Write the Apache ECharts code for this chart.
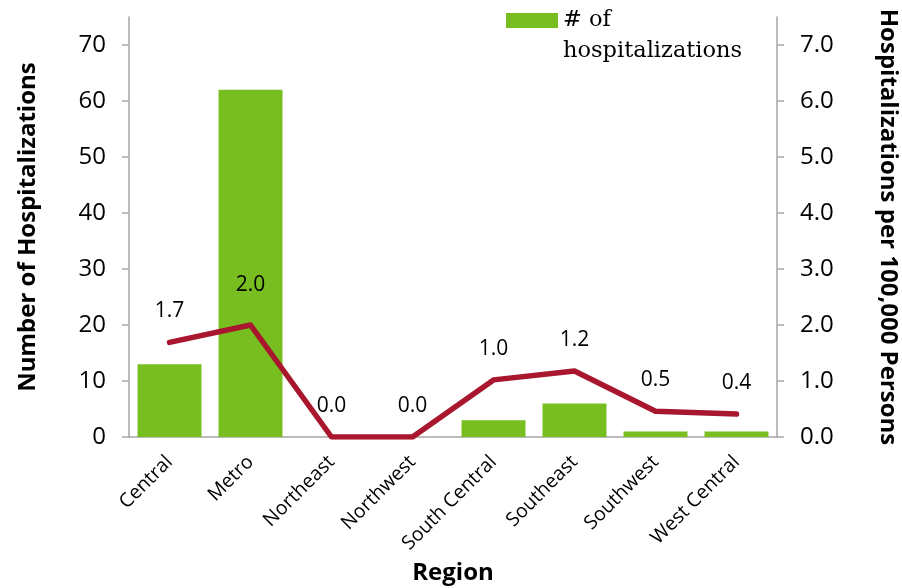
<!DOCTYPE html>
<html>
<head>
<meta charset="utf-8">
<script src="https://cdn.jsdelivr.net/npm/echarts@6/dist/echarts.min.js"></script>
<style>html,body{margin:0;padding:0;background:#fff}#c{width:902px;height:588px}</style>
</head>
<body>
<div id="c"></div>
<script>
const regions = ['Central','Metro','Northeast','Northwest','South Central','Southeast','Southwest','West Central'];
const hospitalizations = [13, 62, 0, 0, 3, 6, 1, 1];
const ratePer100k = [1.69, 2.0, 0.0, 0.0, 1.02, 1.18, 0.46, 0.41];
const leftTicks = [0, 10, 20, 30, 40, 50, 60, 70];
const rightTicks = [0, 1, 2, 3, 4, 5, 6, 7];

const chart = echarts.init(document.getElementById('c'), null, {renderer: 'canvas'});
const sans = 'Open Sans';
const axisColor = '#a6a6a6';
chart.setOption({
  animation: false,
  grid: {left: 129, right: 125, top: 17, bottom: 151, outerBoundsMode: 'none'},
  legend: {
    data: ['# of\nhospitalizations'],
    left: 506, top: -26, padding: 0,
    itemWidth: 52, itemHeight: 15, itemGap: 5,
    icon: 'rect',
    formatter: name => '\n' + name,
    textStyle: {fontFamily: 'DejaVu Serif', fontSize: 22.5, color: '#000', lineHeight: 31}
  },
  xAxis: {
    type: 'category',
    data: regions,
    axisLine: {lineStyle: {color: axisColor, width: 1.5}},
    axisTick: {show: false},
    axisLabel: {rotate: 45, fontFamily: sans, fontSize: 19.5, color: '#000', margin: 22},
    name: 'Region', nameLocation: 'middle', nameGap: 123,
    nameTextStyle: {fontFamily: sans, fontWeight: 'bold', fontSize: 24, color: '#000'}
  },
  yAxis: [{
    type: 'value', min: 0, max: 75, interval: 10,
    axisLine: {show: true, lineStyle: {color: axisColor, width: 1.5}},
    axisTick: {show: true, length: 7, lineStyle: {color: axisColor, width: 1.5}, customValues: leftTicks},
    axisLabel: {fontFamily: sans, fontSize: 24, color: '#000', margin: 23, customValues: leftTicks},
    splitLine: {show: false},
    name: 'Number of Hospitalizations', nameLocation: 'middle', nameGap: 89, nameRotate: 90,
    nameTextStyle: {fontFamily: sans, fontWeight: 'bold', fontSize: 24, color: '#000'}
  }, {
    type: 'value', min: 0, max: 7.5, interval: 1,
    position: 'right',
    axisLine: {show: true, lineStyle: {color: axisColor, width: 1.5}},
    axisTick: {show: true, length: 7, lineStyle: {color: axisColor, width: 1.5}, customValues: rightTicks},
    axisLabel: {fontFamily: sans, fontSize: 24, color: '#000', margin: 23, customValues: rightTicks,
      formatter: v => v.toFixed(1)},
    splitLine: {show: false},
    name: 'Hospitalizations per 100,000 Persons', nameLocation: 'middle', nameGap: 99, nameRotate: -90,
    nameTextStyle: {fontFamily: sans, fontWeight: 'bold', fontSize: 24, color: '#000'}
  }],
  series: [{
    name: '# of\nhospitalizations',
    type: 'bar',
    data: hospitalizations,
    yAxisIndex: 0,
    barCategoryGap: '21%',
    itemStyle: {color: '#78be21'}
  }, {
    name: 'Rate',
    type: 'line',
    data: ratePer100k.map((v, i) => i === 1 ? {value: v, label: {distance: 29}} : v),
    yAxisIndex: 1,
    symbol: 'circle',
    symbolSize: 1,
    showSymbol: true,
    itemStyle: {color: '#a8172e'},
    lineStyle: {color: '#a8172e', width: 5.5, cap: 'round', join: 'round'},
    label: {show: true, position: 'top', distance: 20, fontFamily: sans, fontSize: 21, color: '#000',
      formatter: p => p.value.toFixed(1)}
  }]
});
</script>
</body>
</html>
